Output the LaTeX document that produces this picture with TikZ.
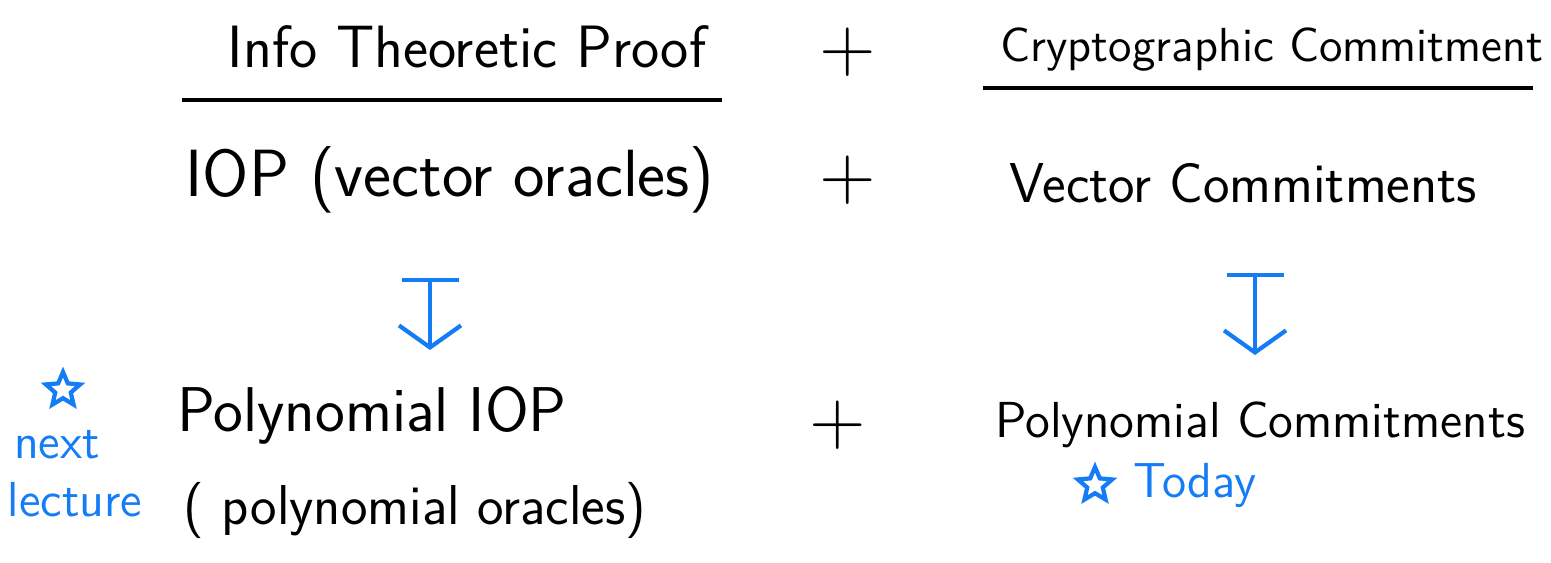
\documentclass[tikz,border=0pt]{standalone}
\usetikzlibrary{arrows.meta,shapes.geometric}
\definecolor{blueink}{RGB}{20,125,245}
\begin{document}
\begin{tikzpicture}[
    line width=1.2pt,
    every node/.style={text=black},
    hand/.style={font=\sffamily\fontsize{#1}{#1}\selectfont},
    note/.style={font=\sffamily\fontsize{14}{16}\selectfont,text=blueink},
    plus/.style={font=\sffamily\fontsize{22}{22}\selectfont},
    mapsto/.style={draw=blueink, {Bar[width=0.57cm]}-{Straight Barb[length=0.22cm,width=0.62cm]}},
    mark5/.style={star, star points=5, star point ratio=2.2, draw=blueink, line width=1.2pt, minimum size=0.36cm, inner sep=0pt}
  ]
  \useasboundingbox (0,0) rectangle (15.51,-5.62);

  %--------------------------------------
  % top row: proof + commitment
  %--------------------------------------
  \node[hand=17] (itp) at (4.67,-0.47) {Info Theoretic Proof};
  \node[plus] (plusA) at (8.48,-0.52) {+};
  \node[hand=13.6] (cc) at (12.72,-0.50) {Cryptographic Commitment};
  \coordinate (ulA) at (1.82,-1.00);
  \coordinate (urA) at (7.22,-1.00);
  \coordinate (ulB) at (9.83,-0.88);
  \coordinate (urB) at (15.33,-0.88);
  \draw (ulA) -- (urA);
  \draw (ulB) -- (urB);

  %--------------------------------------
  % second row
  %--------------------------------------
  \node[hand=19] (iop) at (4.50,-1.80) {IOP (vector oracles)};
  \node[plus] (plusB) at (8.48,-1.80) {+};
  \node[hand=16] (vc) at (12.43,-1.83) {Vector Commitments};

  %--------------------------------------
  % compile down
  %--------------------------------------
  \coordinate (a1) at (4.30,-2.78);
  \coordinate (a2) at (4.30,-3.50);
  \coordinate (b1) at (12.55,-2.73);
  \coordinate (b2) at (12.55,-3.55);
  \draw[mapsto] (a1) -- (a2);
  \draw[mapsto] (b1) -- (b2);

  %--------------------------------------
  % bottom row
  %--------------------------------------
  \node[hand=18] (piop) at (3.72,-4.15) {Polynomial IOP};
  \node[hand=16] (po) at (4.15,-5.10) {( polynomial oracles)};
  \node[plus] (plusC) at (8.38,-4.25) {+};
  \node[hand=14.4] (pc) at (12.60,-4.25) {Polynomial Commitments};

  % notes
  \node[mark5] (starL) at (0.63,-3.90) {};
  \node[note] (nxt) at (0.57,-4.45) {next};
  \node[note] (lec) at (0.75,-5.00) {lecture};
  \node[mark5] (starR) at (10.95,-4.85) {};
  \node[note] (today) at (11.95,-4.85) {Today};
\end{tikzpicture}
\end{document}
